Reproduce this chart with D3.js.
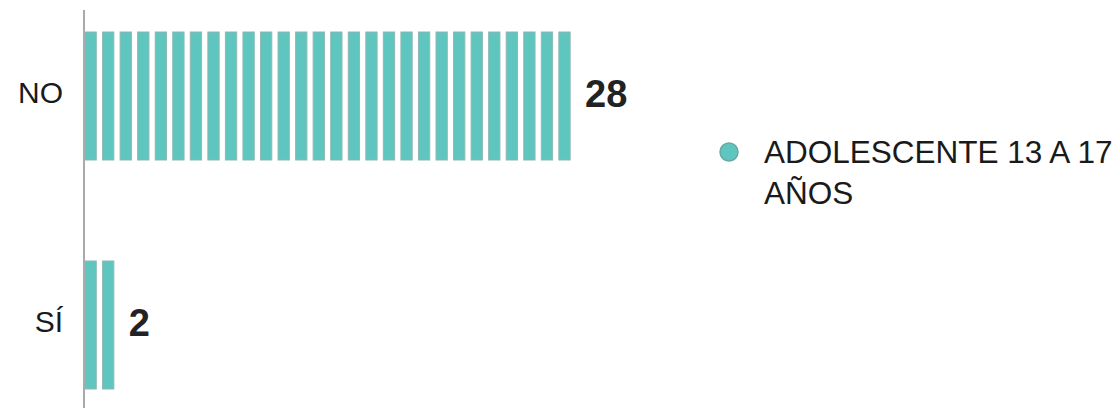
<!DOCTYPE html>
<html><head><meta charset="utf-8">
<script src="https://cdn.jsdelivr.net/npm/d3@7"></script>
<style>html,body{margin:0;padding:0;background:#fff;}svg{display:block;}</style>
</head><body>
<svg id="c" width="1117" height="408"></svg>
<script>
const categories = ["NO", "SÍ"];
const values = [28, 2];
const seriesName = ["ADOLESCENTE 13 A 17", "AÑOS"];
const color = "#5ec5bf";

const svg = d3.select("#c");
const x0 = 84.7, unit = 17.55;
const x = d3.scaleLinear().domain([0, 28]).range([x0, x0 + 28 * unit]);
const y = d3.scaleBand().domain(categories).range([32, 389]).paddingInner(0.441).paddingOuter(0);

// units
categories.forEach((c, ci) => {
  const g = svg.append("g");
  g.selectAll("rect").data(d3.range(values[ci])).join("rect")
    .attr("x", i => x(i) + 0.3)
    .attr("y", y(c))
    .attr("width", 11.3)
    .attr("height", y.bandwidth())
    .attr("fill", color)
    .attr("stroke", "#8fb8b5")
    .attr("stroke-width", 1);
  svg.append("text")
    .attr("x", x(values[ci]) + 9)
    .attr("y", y(c) + y.bandwidth() / 2 + 11)
    .attr("font-family", "Liberation Sans, Arial, sans-serif")
    .attr("font-weight", "bold")
    .attr("font-size", 38)
    .attr("fill", "#222")
    .text(values[ci]);
});

// axis line
svg.append("line").attr("x1", 84).attr("x2", 84).attr("y1", 10).attr("y2", 408)
  .attr("stroke", "#aaaaaa").attr("stroke-width", 2);

// category labels
svg.selectAll("text.cat").data(categories).join("text").attr("class", "cat")
  .attr("x", 63)
  .attr("y", d => y(d) + y.bandwidth() / 2 + 7)
  .attr("text-anchor", "end")
  .attr("font-family", "Liberation Sans, Arial, sans-serif")
  .attr("font-size", 30)
  .attr("fill", "#1a1a1a")
  .text(d => d);

// legend
svg.append("circle").attr("cx", 729).attr("cy", 152).attr("r", 9)
  .attr("fill", color).attr("stroke", "#6aa9a4").attr("stroke-width", 1.5);
svg.selectAll("text.leg").data(seriesName).join("text").attr("class", "leg")
  .attr("x", 764)
  .attr("y", (d, i) => 163 + i * 41)
  .attr("font-family", "Liberation Sans, Arial, sans-serif")
  .attr("font-size", 31.5)
  .attr("fill", "#1a1a1a")
  .text(d => d);
</script>
</body></html>
